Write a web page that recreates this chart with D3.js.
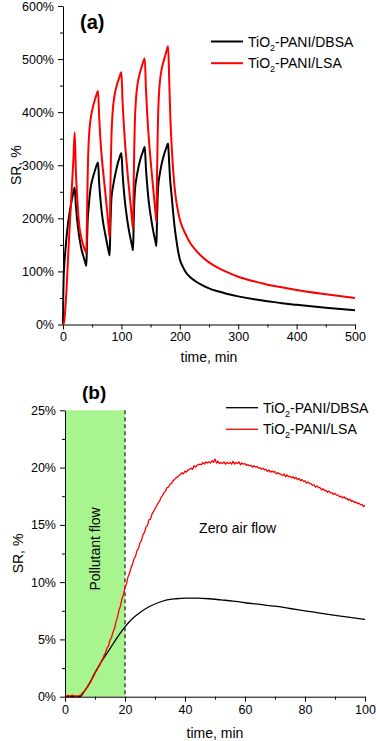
<!DOCTYPE html>
<html><head><meta charset="utf-8">
<script src="https://cdn.jsdelivr.net/npm/d3@7"></script>
<style>
html,body{margin:0;padding:0;background:#fff;}
svg{display:block;font-family:"Liberation Sans",Arial,sans-serif;}
</style></head>
<body><svg id="c" width="376" height="741"></svg>
<script>
// ---------- DATA ----------
const seriesNames = ["TiO2-PANI/DBSA", "TiO2-PANI/LSA"];
// Panel (a): [time min, SR %]
const dbsaA = [
[0,0],[0.5,55],[1,85],[2,110],[3,125],[5,152],[8,185],[12,215],[16,240],[20,258],
[22,225],[24,200],[26,180],[29,157],[32,140],[35,128],[38,117],[40,110],
[41,150],[42,190],[44,222],[47,255],[51,276],[55,291],[60,305],
[62,265],[64,237],[66,215],[69,190],[72,172],[75,155],[78,139],[80,130],
[81,180],[82,215],[83,238],[86,262],[89,280],[93,300],[97,315],[100,323],
[102,285],[104,255],[106,232],[109,205],[112,183],[115,165],[118,150],[120,140],
[121,190],[122,228],[123,250],[126,277],[129,295],[133,313],[137,326],[140,335],
[142,295],[144,265],[146,240],[149,213],[152,192],[155,173],[158,158],[160,148],
[161,200],[162,238],[163,260],[166,285],[169,303],[173,320],[177,333],[180,341],
[181,322],[183,280],[186,243],[188.5,212],[191,185],[194,160],[197,139],[200,123],
[205,109],[210,99],[217,90],[225,83],[235,76],[250,68],[265,62.5],[280,58],[300,53],
[325,48],[350,44],[375,40],[400,37],[450,31.5],[500,27]
];
const lsaA = [
[0,0],[2,5],[4,30],[6,65],[8,110],[10,155],[12,195],[14,235],[16,275],[18,315],[20,362],
[22,290],[24,245],[26,210],[28,185],[31,165],[34,152],[37,142],[40,135],
[41,200],[42,265],[43,315],[45,362],[48,392],[52,413],[56,428],[60,440],
[62,390],[64,350],[66,320],[69,285],[72,253],[75,220],[78,185],[80,163],
[81,240],[82,310],[83,355],[85,400],[88,430],[92,450],[96,464],[100,475],
[102,420],[104,380],[106,345],[109,305],[112,268],[115,235],[118,200],[120,180],
[121,260],[122,330],[123,380],[125,425],[128,455],[132,475],[136,490],[140,501],
[142,445],[144,400],[146,365],[149,322],[152,285],[155,250],[158,215],[160,193],
[161,280],[162,350],[163,400],[165,445],[168,475],[172,495],[176,510],[180,524],
[182,455],[184,385],[186,338],[188.5,293],[191,259],[194,232],[197,213],[200,198],
[205,182],[210,170],[217,155],[225,143],[235,131],[250,117],[265,107],[280,99],[300,90],
[325,82],[350,75],[375,70],[400,65],[450,57],[500,50]
];
const xTicksA = [0,100,200,300,400,500];
const yTicksA = [0,100,200,300,400,500,600];

// Panel (b)
const dbsaB = [
[0,0],[5,0],[6,0.3],[8,1.1],[10,2.1],[12,3.0],[14,3.8],[16,4.6],[18,5.4],[20,6.1],
[22,6.7],[25,7.35],[28,7.85],[31,8.2],[34,8.45],[37,8.55],[40,8.6],[44,8.6],[48,8.55],
[52,8.45],[56,8.35],[60,8.2],[65,8.05],[70,7.9],[75,7.7],[80,7.5],[85,7.3],[90,7.1],[95,6.92],[100,6.75]
];
const lsaBStep = 0.5; // sampling interval, min
const lsaB = [
0.15,0.08,0.12,0.05,0.1,0.14,0.06,0.1,0.04,0.09,
0.12,0.22,0.38,0.48,0.7,0.82,1.05,1.25,1.55,1.75,
2.05,2.25,2.55,2.7,3.05,3.25,3.6,3.85,4.25,4.45,
4.95,5.15,5.65,5.95,6.55,6.95,7.55,7.95,8.55,8.95,
9.55,9.85,10.45,10.75,11.25,11.55,12.05,12.25,12.75,12.95,
13.45,13.65,14.15,14.35,14.8,14.95,15.45,15.5,15.95,16.15,
16.4,16.65,16.9,17.05,17.4,17.55,17.8,17.95,18.25,18.3,
18.55,18.6,18.85,18.95,19.1,19.2,19.3,19.4,19.55,19.45,
19.7,19.6,19.8,19.85,19.95,19.85,20.15,20.05,20.2,20.25,
20.3,20.25,20.45,20.3,20.5,20.4,20.5,20.4,20.6,20.45,
20.75,20.4,20.55,20.35,20.45,20.35,20.5,20.3,20.45,20.35,
20.45,20.3,20.55,20.3,20.45,20.35,20.5,20.25,20.4,20.3,
20.35,20.2,20.25,20.15,20.2,20.05,20.15,20.05,20.1,19.95,
20.0,19.85,19.95,19.8,19.85,19.65,19.8,19.6,19.7,19.6,
19.65,19.45,19.55,19.45,19.4,19.3,19.45,19.2,19.35,19.2,
19.25,19.1,19.2,19.05,19.15,18.95,19.05,18.85,18.95,18.8,
18.85,18.65,18.75,18.6,18.6,18.45,18.5,18.3,18.4,18.25,
18.25,18.05,18.15,18.0,18.0,17.85,17.95,17.8,17.8,17.65,
17.75,17.6,17.6,17.45,17.5,17.35,17.45,17.3,17.3,17.15,
17.25,17.05,17.1,16.95,17.0,16.85,16.9,16.75,16.8,16.6,
16.7
];
const xTicksB = [0,20,40,60,80,100];
const yTicksB = [0,5,10,15,20,25];
const pollutantWindow = [0,20];

// ---------- DRAW ----------
const svg = d3.select("#c");
const colors = ["#000000", "#ff0000"];

function panel(cfg){
  const g = svg.append("g");
  const x = d3.scaleLinear().domain(cfg.xDomain).range([cfg.left, cfg.right]);
  const y = d3.scaleLinear().domain(cfg.yDomain).range([cfg.bottom, cfg.top]);
  if (cfg.before) cfg.before(g, x, y);
  const xa = d3.axisBottom(x).tickValues(cfg.xMinor).tickSize(3).tickFormat("");
  const ya = d3.axisLeft(y).tickValues(cfg.yMinor).tickSize(3).tickFormat("");
  g.append("g").attr("transform",`translate(0,${cfg.bottom})`).call(xa).call(s=>s.select(".domain").remove());
  g.append("g").attr("transform",`translate(${cfg.left},0)`).call(ya).call(s=>s.select(".domain").remove());
  const xA = d3.axisBottom(x).tickValues(cfg.xTicks).tickSize(5).tickSizeOuter(0).tickPadding(3).tickFormat(d=>d);
  const yA = d3.axisLeft(y).tickValues(cfg.yTicks).tickSize(5).tickSizeOuter(0).tickPadding(4).tickFormat(d=>d+"%");
  const gx = g.append("g").attr("transform",`translate(0,${cfg.bottom})`).call(xA);
  const gy = g.append("g").attr("transform",`translate(${cfg.left},0)`).call(yA);
  [gx,gy].forEach(s=>{
    s.selectAll("text").attr("font-size",12.5).attr("fill","#000").attr("font-family","Liberation Sans, Arial, sans-serif");
    s.selectAll("line,path").attr("stroke","#000").attr("stroke-width",1);
  });
  g.selectAll(".tick line").attr("stroke","#000");
  cfg.series.forEach((s,i)=>{
    g.append("path").datum(s).attr("d", d3.line().x(d=>x(d[0])).y(d=>y(d[1])).curve(cfg.curves[i])).attr("fill","none")
      .attr("stroke",colors[i]).attr("stroke-width",cfg.lw[i]).attr("stroke-linejoin","round");
  });
  g.append("text").attr("x",(cfg.left+cfg.right)/2).attr("y",cfg.xTitleY).attr("text-anchor","middle")
    .attr("font-size",14).text("time, min");
  g.append("text").attr("transform",`translate(${cfg.yTitleX},${(cfg.top+cfg.bottom)/2}) rotate(-90)`)
    .attr("text-anchor","middle").attr("font-size",14).text("SR, %");
  g.append("text").attr("x",cfg.labelX).attr("y",cfg.labelY).attr("font-size",cfg.labelSize).attr("font-weight","bold").text(cfg.label);
  seriesNames.forEach((n,i)=>{
    const ly = cfg.legY + i*cfg.legDy;
    g.append("line").attr("x1",cfg.legX).attr("x2",cfg.legX+32).attr("y1",ly).attr("y2",ly)
      .attr("stroke",colors[i]).attr("stroke-width",cfg.legLw);
    const t = g.append("text").attr("x",cfg.legX+37).attr("y",ly+5).attr("font-size",14);
    const parts = n.split("2");
    t.append("tspan").text(parts[0]);
    t.append("tspan").attr("font-size",9).attr("dy",4).text("2");
    t.append("tspan").attr("dy",-4).text(parts[1]);
  });
  if (cfg.after) cfg.after(g, x, y);
}

panel({
  xDomain:[0,500], yDomain:[0,600], left:63, right:355, top:6, bottom:324.5,
  xTicks:xTicksA, yTicks:yTicksA,
  xMinor:d3.range(50,500,100), yMinor:d3.range(50,600,100),
  series:[dbsaA, lsaA], curves:[d3.curveMonotoneX, d3.curveMonotoneX], lw:[2,2],
  xTitleY:362, yTitleX:21, label:"(a)", labelX:80, labelY:29, labelSize:20,
  legX:211, legY:41.5, legDy:21.7, legLw:2
});

panel({
  xDomain:[0,100], yDomain:[0,25], left:65, right:365, top:410.3, bottom:696.7,
  xTicks:xTicksB, yTicks:yTicksB,
  xMinor:d3.range(10,100,20), yMinor:d3.range(2.5,25,5),
  series:[dbsaB, lsaB.map((v,i)=>[i*lsaBStep, v])], curves:[d3.curveMonotoneX, d3.curveLinear], lw:[1.3,1.3],
  xTitleY:738, yTitleX:23, label:"(b)", labelX:82, labelY:399, labelSize:19,
  legX:226, legY:407.7, legDy:21.6, legLw:1.3,
  before:(g,x,y)=>{
    g.append("rect").attr("x",x(pollutantWindow[0])).attr("y",y(25)).attr("width",x(pollutantWindow[1])-x(pollutantWindow[0]))
      .attr("height",y(0)-y(25)).attr("fill","#a8f590");
    g.append("line").attr("x1",x(pollutantWindow[1])).attr("x2",x(pollutantWindow[1])).attr("y1",y(25)).attr("y2",y(0))
      .attr("stroke","#444").attr("stroke-width",1.5).attr("stroke-dasharray","4,3");
    g.append("text").attr("transform",`translate(${x(10)+5},${y(12.9)}) rotate(-90)`).attr("text-anchor","middle")
      .attr("font-size",14).text("Pollutant flow");
    g.append("text").attr("x",x(44.7)).attr("y",y(14.3)).attr("font-size",14).text("Zero air flow");
  }
});
</script></body></html>
